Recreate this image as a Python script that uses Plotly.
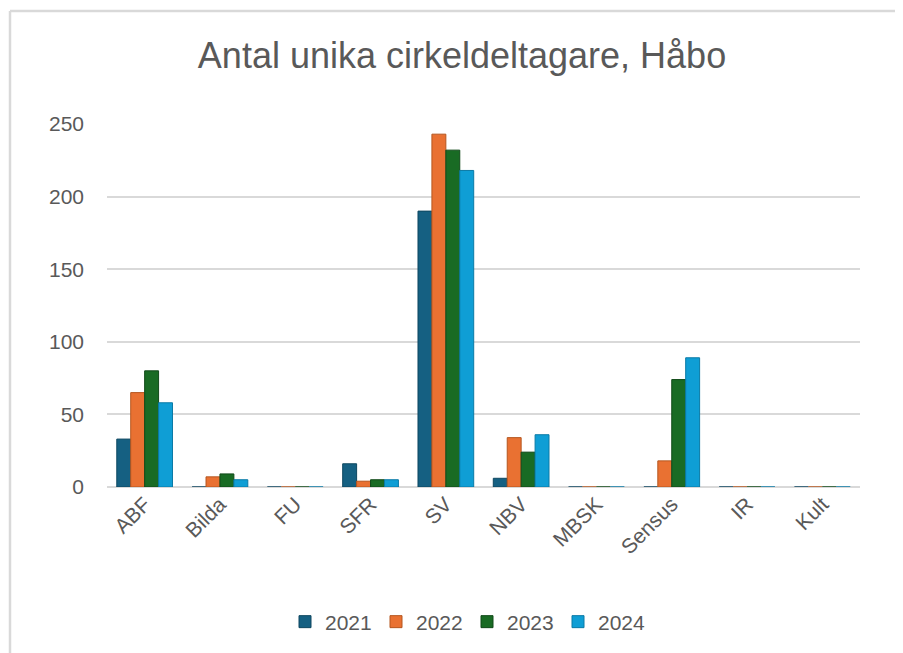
import plotly.graph_objects as go

categories = ["ABF", "Bilda", "FU", "SFR", "SV", "NBV", "MBSK", "Sensus", "IR", "Kult"]
years = ["2021", "2022", "2023", "2024"]
v2021 = [33, 0, 0, 16, 190, 6, 0, 0, 0, 0]
v2022 = [65, 7, 0, 4, 243, 34, 0, 18, 0, 0]
v2023 = [80, 9, 0, 5, 232, 24, 0, 74, 0, 0]
v2024 = [58, 5, 0, 5, 218, 36, 0, 89, 0, 0]
series = [v2021, v2022, v2023, v2024]
colors = ["#156082", "#E97132", "#196B24", "#0F9ED5"]
side_colors = ["#0e4760", "#b5561f", "#114a19", "#0a7aa6"]
yticks = [0, 50, 100, 150, 200, 250]

FONT = "Liberation Sans, Arial, sans-serif"
TXT = "#595959"

fig = go.Figure()
for name, vals, c, sc in zip(years, series, colors, side_colors):
    fig.add_trace(go.Bar(
        x=categories, y=vals, name=name,
        marker=dict(color=c, line=dict(color=sc, width=1)),
    ))

W, H = 903, 653
OFF = 8  # page offset seen in the screenshot
L, R, T, B = 107 - OFF, 43 + OFF, 124 - OFF, 166 + OFF
pw, ph = W - L - R, H - T - B

def px_x(p):
    return (p - L) / pw

def px_y(p):
    return (H - B - p) / ph

fig.update_layout(
    width=W, height=H,
    margin=dict(l=L, r=R, t=T, b=B, autoexpand=False),
    paper_bgcolor="white", plot_bgcolor="white",
    font=dict(family=FONT, color=TXT, size=21),
    title=dict(text="Antal unika cirkeldeltagare, Håbo",
               font=dict(family=FONT, size=36, color=TXT),
               x=(462 - OFF) / W, xanchor="center", xref="container",
               y=1 - (55 - OFF) / H, yanchor="middle", yref="container"),
    barmode="group", bargap=0.26, bargroupgap=0.0,
    legend=dict(orientation="h", x=(467 - OFF) / W, xanchor="center", xref="container",
                y=1 - (622 - OFF) / H, yanchor="middle", yref="container",
                font=dict(size=21, color=TXT),
                entrywidth=46, entrywidthmode="pixels",
                bgcolor="rgba(0,0,0,0)"),
    xaxis=dict(tickangle=-45, showgrid=False, showline=False, ticks="",
               tickfont=dict(size=21, color=TXT), zeroline=False),
    yaxis=dict(range=[0, 250], tickvals=yticks, showgrid=True,
               gridcolor="#d9d9d9", gridwidth=2, zeroline=True,
               zerolinecolor="#d9d9d9", zerolinewidth=2,
               showline=False, ticks="", ticklabelstandoff=22,
               tickfont=dict(size=21, color=TXT)),
    shapes=[
        dict(type="line", xref="paper", yref="paper",
             x0=px_x(10 - OFF), x1=px_x(W + 5), y0=px_y(11 - OFF), y1=px_y(11 - OFF),
             line=dict(color="#d9d9d9", width=2.5)),
        dict(type="line", xref="paper", yref="paper",
             x0=px_x(10 - OFF), x1=px_x(10 - OFF), y0=px_y(11 - OFF), y1=px_y(H + 5),
             line=dict(color="#d9d9d9", width=2.5)),
    ],
)

fig.write_html("out.html")
